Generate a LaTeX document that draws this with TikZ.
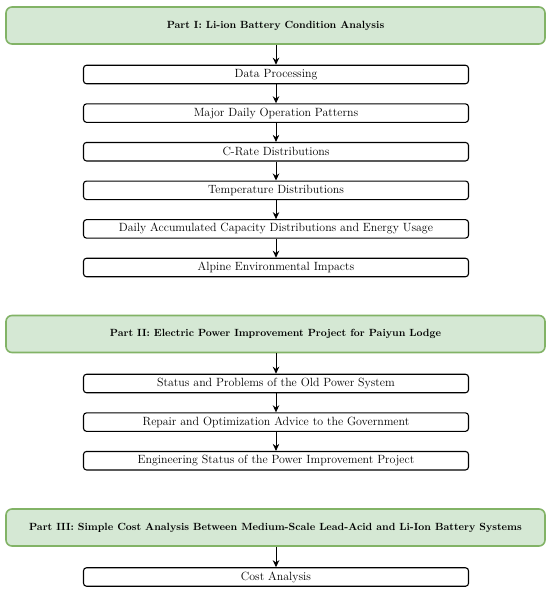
\documentclass[tikz,border=0pt]{standalone}
\usepackage{tikz}
\usetikzlibrary{arrows.meta}
\definecolor{partgreen}{RGB}{213,232,212}
\definecolor{partedge}{RGB}{130,179,102}

\begin{document}
\begin{tikzpicture}[x=1pt, y=1pt,
	partbox/.style={draw=partedge, fill=partgreen, line width=1.6pt, rounded corners=6pt,
		minimum width=539pt, minimum height=37pt, inner sep=0pt,
		font=\fontsize{10.4}{12}\selectfont\bfseries},
	stepbox/.style={draw=black, line width=1.1pt, rounded corners=3pt,
		minimum width=385pt, minimum height=18.5pt, inner sep=0pt,
		font=\fontsize{11.9}{13}\selectfont},
	flow/.style={-{Stealth[length=7pt, width=6.5pt]}, line width=0.9pt}]
	\useasboundingbox (0,0) rectangle (550,-591);

	% part I
	\node[partbox] (part1) at (275.5,-25.5) {Part I: Li-ion Battery Condition Analysis};
	\node[stepbox] (data) at (276,-74.5) {Data Processing};
	\node[stepbox] (pattern) at (276,-113.1) {Major Daily Operation Patterns};
	\node[stepbox] (crate) at (276,-151.7) {C-Rate Distributions};
	\node[stepbox] (temp) at (276,-190.3) {Temperature Distributions};
	\node[stepbox] (capacity) at (276,-228.9) {Daily Accumulated Capacity Distributions and Energy Usage};
	\node[stepbox] (alpine) at (276,-267.5) {Alpine Environmental Impacts};

	% part II
	\node[partbox] (part2) at (275.5,-334) {Part II: Electric Power Improvement Project for Paiyun Lodge};
	\node[stepbox] (status) at (276,-383.5) {Status and Problems of the Old Power System};
	\node[stepbox] (advice) at (276,-422.1) {Repair and Optimization Advice to the Government};
	\node[stepbox] (engineering) at (276,-460.7) {Engineering Status of the Power Improvement Project};

	% part III
	\node[partbox] (part3) at (275.5,-527.5) {Part III: Simple Cost Analysis Between Medium-Scale Lead-Acid and Li-Ion Battery Systems};
	\node[stepbox] (cost) at (276,-577) {Cost Analysis};

	\foreach \a/\b in {part1/data, data/pattern, pattern/crate, crate/temp, temp/capacity, capacity/alpine,
		part2/status, status/advice, advice/engineering, part3/cost}
		\draw[flow] (\a.south -| \b.north) -- (\b.north);
\end{tikzpicture}
\end{document}
